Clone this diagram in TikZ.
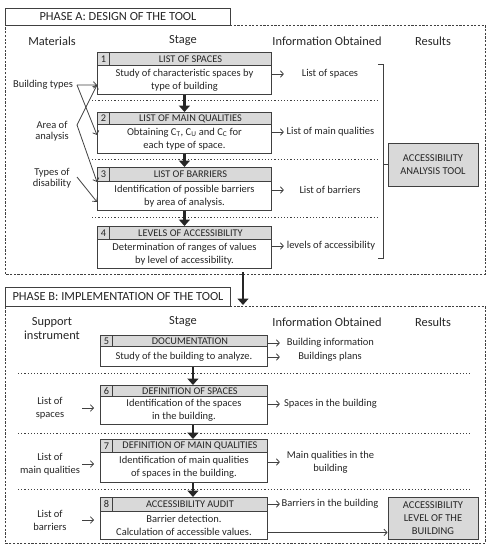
\documentclass[tikz,border=0pt]{standalone}
\usepackage{fontspec}
\setmainfont{Carlito}
\usetikzlibrary{arrows.meta,calc}
\definecolor{linec}{HTML}{404040}
\definecolor{hdrfill}{HTML}{D9D9D9}
\definecolor{txtc}{HTML}{262626}
% \mystage{id}{num}{x1}{ytop}{x2}{yhead}{ybot}{title}{body}
\newcommand\mystage[9]{%
  \node[hd, minimum width=12, minimum height={#6-#4}] (n#1) at (#3,#4) {#2};
  \node[hd, minimum width={#5-#3-12}, minimum height={#6-#4}] (h#1) at ({#3+12},#4) {#8};
  \node[bd, minimum width={#5-#3}, minimum height={#7-#6}] (b#1) at (#3,#6) {#9};
}
\begin{document}
\begin{tikzpicture}[x=1pt,y=-1pt,
  cell/.style={draw=linec, line width=0.9pt, inner sep=0pt, anchor=north west, text=txtc},
  hd/.style={cell, fill=hdrfill, font=\fontsize{10.3}{12}\selectfont},
  bd/.style={cell, fill=white, align=center, font=\fontsize{10.5}{13}\selectfont},
  colhd/.style={font=\fontsize{12.4}{14}\selectfont, text=txtc, align=center},
  lbl/.style={font=\fontsize{10.5}{13}\selectfont, text=txtc, align=center},
  res/.style={draw=linec, line width=1pt, fill=hdrfill, text=txtc, align=center, inner sep=0pt,
              font=\fontsize{10.5}{13}\selectfont, minimum width=90, minimum height=43},
  ttl/.style={draw=linec, line width=1pt, fill=white, inner sep=0pt, anchor=north west, minimum width=225},
  ttltext/.style={text=txtc, font=\fontsize{12.4}{14}\selectfont, inner sep=0pt},
  arr/.style={draw=linec, line width=0.8pt, -{Straight Barb[length=3pt,width=6.5pt]}},
  big/.style={draw=black!85, line width=2.2pt, -{Triangle[length=6.5pt,width=11pt]}},
  sep/.style={draw=linec, line width=1pt, dash pattern=on 1.2pt off 2pt},
  phase/.style={draw=linec, line width=0.9pt, dash pattern=on 2.2pt off 1.5pt},
]
\useasboundingbox (0,0) rectangle (491,550);

% ---------------- PHASE A ----------------
\draw[phase] (230,25) -- (485,25) -- (485,274) -- (5,274) -- (5,25);
\node[ttl, minimum height=17] (ta) at (5,8) {};
\node[ttltext] (tat) at (ta.center) {PHASE A: DESIGN OF THE TOOL};

\node[colhd] (ca1) at (52,41) {Materials};
\node[colhd] (ca2) at (183,41) {Stage};
\node[colhd] (ca3) at (327,41) {Information Obtained};
\node[colhd] (ca4) at (433,41) {Results};

\draw[sep] (92,100) -- (378,100);
\draw[sep] (92,159) -- (378,159);
\draw[sep] (92,217) -- (378,217);

\mystage{1}{1}{97}{52}{271}{65}{94}{LIST OF SPACES}{Study of characteristic spaces by\\type of building}
\mystage{2}{2}{97}{112}{271}{124}{153}{LIST OF MAIN QUALITIES}{Obtaining C\textsubscript{T}, C\textsubscript{U} and C\textsubscript{C} for\\each type of space.}
\mystage{3}{3}{97}{167}{271}{181}{210}{LIST OF BARRIERS}{Identification of possible barriers\\by area of analysis.}
\mystage{4}{4}{97}{226}{271}{239}{268}{LEVELS OF ACCESSIBILITY}{Determination of ranges of values\\by level of accessibility.}

\draw[big] (b1.south) -- (b1.south |- h2.north);
\draw[big] (b2.south) -- (b2.south |- h3.north);
\draw[big] (b3.south) -- (b3.south |- h4.north);

% materials
\node[lbl] (bt) at (43,85) {Building types};
\node[lbl, font=\fontsize{10.5}{11.5}\selectfont] (aa) at (52,131) {Area of\\analysis};
\node[lbl, font=\fontsize{10.5}{11.5}\selectfont] (td) at (52,178) {Types of\\disability};
\coordinate (btp) at (77,85);
\coordinate (aap) at (77,125);
\coordinate (tdp) at (77,177);
\draw[arr] (btp) -- ([yshift=-5pt]b1.west);
\draw[arr] (btp) -- ([yshift=4pt]b2.west);
\draw[arr] (aap) -- ([yshift=-5pt]b1.west);
\draw[arr] (aap) -- ([yshift=-1pt]b3.north west);
\draw[arr] (tdp) -- ([yshift=-6pt]b3.west);

% information obtained
\node[lbl] (ia1) at (330,74) {List of spaces};
\node[lbl] (ia2) at (330.5,132) {List of main qualities};
\node[lbl] (ia3) at (330,190) {List of barriers};
\node[lbl] (ia4) at (331,246) {levels of accessibility};
\draw[arr] (b1.east |- ia1.west) -- ++(12,0);
\draw[arr] (b2.east |- ia2.west) -- ++(12,0);
\draw[arr] (b3.east |- ia3.west) -- ++(12,0);
\draw[arr] (b4.east |- ia4.west) -- ++(12,0);

% result A
\node[res] (r1) at (433,164.5) {ACCESSIBILITY\\ANALYSIS TOOL};
\coordinate (brt) at (383,64);
\coordinate (brb) at (383,258);
\draw[draw=linec, line width=1pt] ([xshift=-5pt]brt) -- (brt) -- (brb) -- ([xshift=-5pt]brb);
\draw[draw=linec, line width=1pt] (brt |- r1.west) -- (r1.west);

% phase arrow
\coordinate (pa) at (243,272);
\coordinate (pb) at (243,305);
\draw[big, line width=2.5pt] (pa) -- (pb);

% ---------------- PHASE B ----------------
\draw[phase] (230,306) -- (485,306) -- (485,543) -- (5,543) -- (5,306);
\node[ttl, minimum height=19] (tb) at (5,287) {};
\node[ttltext] (tbt) at (tb.center) {PHASE B: IMPLEMENTATION OF THE TOOL};

\node[colhd] (cb1) at (52,329) {Support\\instrument};
\node[colhd] (cb2) at (183,322) {Stage};
\node[colhd] (cb3) at (327,322) {Information Obtained};
\node[colhd] (cb4) at (433,322) {Results};

\draw[sep] (18,373) -- (472,373);
\draw[sep] (18,433) -- (472,433);
\draw[sep] (18,489) -- (472,489);

\mystage{5}{5}{100}{335}{267}{346}{366}{DOCUMENTATION}{Study of the building to analyze.}
\mystage{6}{6}{100}{385}{267}{396}{424}{DEFINITION OF SPACES}{Identification of the spaces\\in the building.}
\mystage{7}{7}{100}{439}{267}{452}{482}{DEFINITION OF MAIN QUALITIES}{Identification of main qualities\\of spaces in the building.}
\mystage{8}{8}{100}{497}{267}{511}{539}{ACCESSIBILITY AUDIT}{Barrier detection.\\Calculation of accessible values.}

\draw[big] ([xshift=9pt]b5.south) -- ([xshift=9pt]b5.south |- h6.north);
\draw[big] ([xshift=9pt]b6.south) -- ([xshift=9pt]b6.south |- h7.north);
\draw[big] ([xshift=9pt]b7.south) -- ([xshift=9pt]b7.south |- h8.north);

% support instruments
\node[lbl] (s6) at (50,408) {List of\\spaces};
\node[lbl] (s7) at (50,464) {List of\\main qualities};
\node[lbl] (s8) at (50,520) {List of\\barriers};
\draw[arr] ([xshift=-18pt]b6.west |- s6.east) -- ([xshift=-6pt]b6.west |- s6.east);
\draw[arr] ([xshift=-18pt]b7.west |- s7.east) -- ([xshift=-6pt]b7.west |- s7.east);
\draw[arr] ([xshift=-18pt]b8.west |- s8.east) -- ([xshift=-6pt]b8.west |- s8.east);

% information obtained
\node[lbl] (ib5a) at (330.5,343) {Building information};
\node[lbl] (ib5b) at (330,357) {Buildings plans};
\node[lbl] (ib6) at (330.5,404) {Spaces in the building};
\node[lbl] (ib7) at (330.5,462) {Main qualities in the\\building};
\node[lbl] (ib8) at (330,504) {Barriers in the building};
\draw[arr] (h5.east |- ib5a.west) -- ++(12,0);
\draw[arr] (b5.east |- ib5b.west) -- ++(12,0);
\draw[arr] (b6.east |- ib6.west) -- ++(12,0);
\draw[arr] (b7.east |- ib7.west) -- ++(12,0);
\draw[arr] (h8.east |- ib8.west) -- ++(12,0);

% result B
\node[res, minimum height=42] (r2) at (433,518) {ACCESSIBILITY\\LEVEL OF THE\\BUILDING};
\draw[arr] ([yshift=-7pt]b8.east) -- ([yshift=-7pt]b8.east -| r2.west);
\end{tikzpicture}
\end{document}
